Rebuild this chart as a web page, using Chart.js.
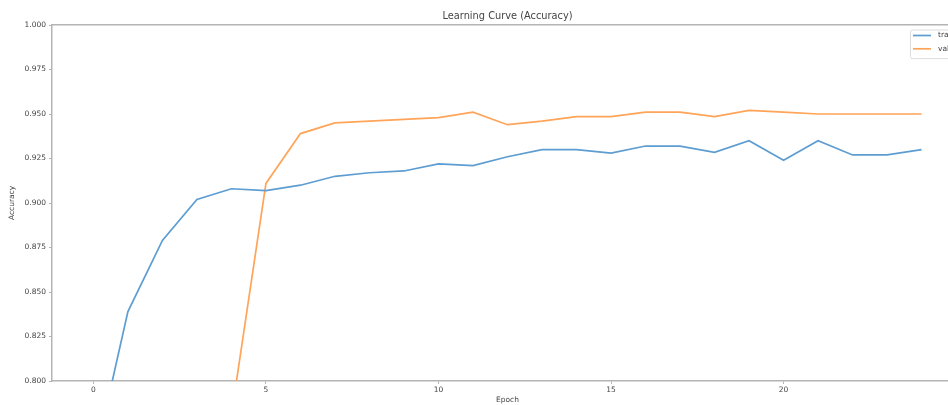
<!DOCTYPE html>
<html>
<head>
<meta charset="utf-8">
<script src="https://cdn.jsdelivr.net/npm/chart.js@4/dist/chart.umd.min.js"></script>
<style>
  html, body { margin: 0; padding: 0; background: #fff; overflow: hidden; }
  #wrap { width: 1000px; height: 405px; position: relative; }
</style>
</head>
<body>
<div id="wrap"><canvas id="c" width="1000" height="405"></canvas></div>
<script>
// Epoch index and per-epoch accuracy
const epochs = [0, 1, 2, 3, 4, 5, 6, 7, 8, 9, 10, 11, 12, 13, 14, 15, 16, 17, 18, 19, 20, 21, 22, 23, 24];
const trainAcc = [0.753, 0.839, 0.879, 0.902, 0.908, 0.907, 0.910, 0.915, 0.917, 0.918, 0.922, 0.921, 0.926,
                  0.930, 0.930, 0.928, 0.932, 0.932, 0.9285, 0.935, 0.924, 0.935, 0.927, 0.927, 0.930];
const valAcc = [null, null, null, null, 0.781, 0.911, 0.939, 0.945, 0.946, 0.947, 0.948, 0.951, 0.944,
                0.946, 0.9485, 0.9485, 0.951, 0.951, 0.9485, 0.952, 0.951, 0.950, 0.950, 0.950, 0.950];
const seriesNames = ['train', 'val'];
const xTicks = [0, 5, 10, 15, 20];
const yTicks = [0.800, 0.825, 0.850, 0.875, 0.900, 0.925, 0.950, 0.975, 1.000];

const FONT = 'DejaVu Sans';
const TEXT = '#444';
const SPINE = '#b4b4b4';

const toPoints = arr => epochs.map((e, i) => ({ x: e, y: arr[i] }));

// Matplotlib-style legend box in the upper-right corner of the plot area
const boxLegend = {
  id: 'boxLegend',
  afterDatasetsDraw(chart) {
    const { ctx, chartArea } = chart;
    const ds = chart.data.datasets;
    const w = 49, rowH = 13.3, h = ds.length * rowH + 2;
    const x0 = chartArea.right - 4 - w, y0 = chartArea.top + 4.5;
    ctx.save();
    ctx.fillStyle = 'rgba(255,255,255,0.8)';
    ctx.strokeStyle = '#dddddd';
    ctx.lineWidth = 1;
    ctx.beginPath();
    ctx.roundRect(x0 + 0.5, y0 + 0.5, w, h, 2);
    ctx.fill();
    ctx.stroke();
    ctx.font = `7.5px "${FONT}"`;
    ctx.textBaseline = 'middle';
    ds.forEach((d, i) => {
      const cy = y0 + 6 + i * rowH;
      ctx.strokeStyle = d.borderColor;
      ctx.lineWidth = d.borderWidth;
      ctx.beginPath();
      ctx.moveTo(x0 + 3, cy);
      ctx.lineTo(x0 + 21, cy);
      ctx.stroke();
      ctx.fillStyle = TEXT;
      ctx.fillText(d.label, x0 + 28, cy);
    });
    ctx.restore();
  }
};

// Right spine of the axes frame
const rightSpine = {
  id: 'rightSpine',
  afterDraw(chart) {
    const { ctx, chartArea } = chart;
    ctx.save();
    ctx.strokeStyle = SPINE;
    ctx.lineWidth = 1.5;
    ctx.beginPath();
    ctx.moveTo(chartArea.right, chartArea.top);
    ctx.lineTo(chartArea.right, chartArea.bottom);
    ctx.stroke();
    ctx.restore();
  }
};

const tickFont = { family: FONT, size: 7.5 };

new Chart(document.getElementById('c'), {
  type: 'line',
  data: {
    datasets: [
      { label: seriesNames[0], data: toPoints(trainAcc), borderColor: '#5d9dd2', borderWidth: 1.7,
        pointRadius: 0, tension: 0, fill: false, xAxisID: 'x', yAxisID: 'y' },
      { label: seriesNames[1], data: toPoints(valAcc), borderColor: '#ffa458', borderWidth: 1.7,
        pointRadius: 0, tension: 0, fill: false, xAxisID: 'x', yAxisID: 'y' }
    ]
  },
  options: {
    responsive: false,
    animation: false,
    events: [],
    layout: { padding: { left: 0, right: 37, top: 0, bottom: 0 } },
    plugins: {
      legend: { display: false },
      tooltip: { enabled: false },
      title: { display: false }
    },
    scales: {
      // top frame edge; its title is the chart heading, centred over the plot
      xTop: {
        type: 'linear',
        position: 'top',
        min: -1.2,
        max: 25.2,
        afterFit: s => { s.height = 25; },
        border: { display: true, color: SPINE, width: 1.5 },
        grid: { display: true, drawOnChartArea: false, drawTicks: false },
        ticks: { display: false },
        title: { display: true, text: 'Learning Curve (Accuracy)', color: TEXT,
                 font: { family: FONT, size: 9.8, weight: 'normal' }, padding: { top: 11, bottom: 0 } }
      },
      x: {
        type: 'linear',
        position: 'bottom',
        min: -1.2,
        max: 25.2,
        afterBuildTicks: s => { s.ticks = xTicks.map(v => ({ value: v })); },
        afterFit: s => { s.height = 24; },
        border: { display: true, color: SPINE, width: 1.5 },
        grid: { display: true, drawOnChartArea: false, drawTicks: true, tickLength: 3, color: SPINE },
        ticks: { color: TEXT, font: tickFont, padding: 2, maxRotation: 0, callback: v => String(v) },
        title: { display: true, text: 'Epoch', color: TEXT, font: tickFont, padding: { top: 1, bottom: 0 } }
      },
      y: {
        min: 0.8,
        max: 1.0,
        afterBuildTicks: s => { s.ticks = yTicks.map(v => ({ value: v })); },
        afterFit: s => { s.width = 52; },
        border: { display: true, color: SPINE, width: 1.5 },
        grid: { display: true, drawOnChartArea: false, drawTicks: true, tickLength: 3, color: SPINE },
        ticks: { color: TEXT, font: tickFont, padding: 3, callback: v => Number(v).toFixed(3) },
        title: { display: true, text: 'Accuracy', color: TEXT, font: tickFont, padding: { top: 8, bottom: 0 } }
      }
    }
  },
  plugins: [boxLegend, rightSpine]
});
</script>
</body>
</html>
